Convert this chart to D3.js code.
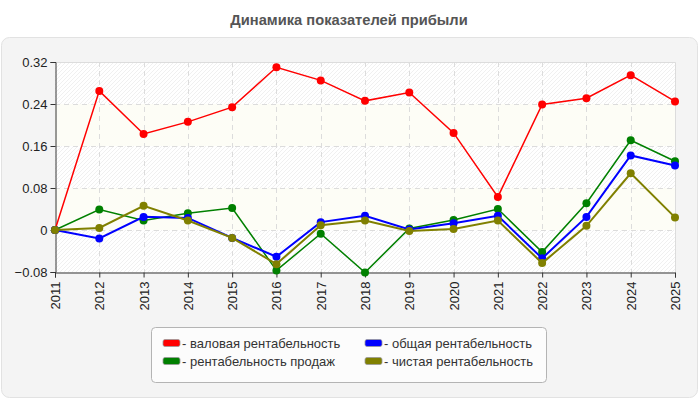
<!DOCTYPE html>
<html>
<head>
<meta charset="utf-8">
<script src="https://cdn.jsdelivr.net/npm/d3@7"></script>
<style>
  body { margin: 0; background: #fff; }
  svg { display: block; font-family: "Liberation Sans", Arial, sans-serif; }
</style>
</head>
<body>
<div id="chart"></div>
<script>
// data
var years = [2011, 2012, 2013, 2014, 2015, 2016, 2017, 2018, 2019, 2020, 2021, 2022, 2023, 2024, 2025]
var gross = [0, 0.265, 0.183, 0.206, 0.234, 0.310, 0.285, 0.246, 0.262, 0.185, 0.063, 0.239, 0.251, 0.295, 0.245]
var sales = [0, 0.039, 0.018, 0.032, 0.042, -0.077, -0.007, -0.081, 0.003, 0.019, 0.040, -0.042, 0.051, 0.171, 0.131]
var total = [0, -0.016, 0.025, 0.023, -0.015, -0.051, 0.015, 0.027, 0.001, 0.013, 0.027, -0.054, 0.025, 0.142, 0.123]
var net = [0, 0.004, 0.046, 0.018, -0.015, -0.065, 0.009, 0.018, -0.002, 0.002, 0.018, -0.063, 0.008, 0.108, 0.024]
var yTicks = [-0.08, 0, 0.08, 0.16, 0.24, 0.32]

var series = [
  {name: '- валовая рентабельность', color: '#ff0000', values: gross, w: 1.5, col: 0, row: 0},
  {name: '- рентабельность продаж', color: '#008000', values: sales, w: 1.5, col: 0, row: 1},
  {name: '- общая рентабельность', color: '#0000ff', values: total, w: 2, col: 1, row: 0},
  {name: '- чистая рентабельность', color: '#808000', values: net, w: 2, col: 1, row: 1}
]

var W = 700, H = 400
var svg = d3.select('#chart').append('svg').attr('width', W).attr('height', H)

//outer panel
svg.append('rect')
  .attr('x', 1.5).attr('y', 37.5).attr('width', 696).attr('height', 360)
  .attr('rx', 8).attr('ry', 8)
  .style('fill', '#f4f4f4').style('stroke', '#e2e2e2')

svg.append('text')
  .attr('x', 349).attr('y', 25)
  .attr('text-anchor', 'middle')
  .style('font-size', '14.7px').style('font-weight', 'bold').style('fill', '#555')
  .text('Динамика показателей прибыли')

var x = d3.scaleLinear().domain([2011, 2025]).range([55, 675])
var y = d3.scaleLinear().domain([-0.08, 0.32]).range([272, 62])

//hatch pattern for plot background
var defs = svg.append('defs')
var pat = defs.append('pattern')
  .attr('id', 'hatch').attr('patternUnits', 'userSpaceOnUse')
  .attr('width', 4).attr('height', 4)
pat.append('rect').attr('width', 4).attr('height', 4).style('fill', '#fff')
pat.append('path').attr('d', 'M-1,1 l2,-2 M0,4 l4,-4 M3,5 l2,-2')
  .style('stroke', '#eeeeee').style('stroke-width', 0.9)

var plot = svg.append('g')
plot.append('rect')
  .attr('x', x(2011)).attr('y', y(0.32))
  .attr('width', x(2025) - x(2011)).attr('height', y(-0.08) - y(0.32))
  .style('fill', 'url(#hatch)')

//alternate plain bands
d3.range(0, yTicks.length - 1).forEach(function(i){
  if(i % 2 == 1){
    plot.append('rect')
      .attr('x', x(2011)).attr('y', y(yTicks[i + 1]))
      .attr('width', x(2025) - x(2011)).attr('height', y(yTicks[i]) - y(yTicks[i + 1]))
      .style('fill', '#fdfdf6')
  }
})

//grid
plot.selectAll('.hgrid').data(yTicks.slice(1, -1)).enter().append('line')
  .attr('x1', x(2011)).attr('x2', x(2025))
  .attr('y1', function(d){ return y(d) + 0.5 }).attr('y2', function(d){ return y(d) + 0.5 })
  .style('stroke', '#dcdcdc').style('stroke-dasharray', '5,4')
plot.selectAll('.vgrid').data(years.slice(1, -1)).enter().append('line')
  .attr('x1', function(d){ return Math.round(x(d)) + 0.5 }).attr('x2', function(d){ return Math.round(x(d)) + 0.5 })
  .attr('y1', y(0.32)).attr('y2', y(-0.08))
  .style('stroke', '#dcdcdc').style('stroke-dasharray', '5,4')
plot.append('path')
  .attr('d', 'M' + x(2011) + ',' + (y(0.32) + 0.5) + 'H' + (x(2025) + 0.5) + 'V' + y(-0.08))
  .style('fill', 'none').style('stroke', '#dcdcdc')

//axes
var yAxis = svg.append('g').attr('transform', 'translate(' + (x(2011) + 0.5) + ',0)')
  .call(d3.axisLeft(y).tickValues(yTicks).tickSize(5).tickPadding(3)
    .tickFormat(function(d){ return d == 0 ? '0' : d3.format('.2f')(d) }))
var xAxis = svg.append('g').attr('transform', 'translate(0,' + (y(-0.08) + 0.5) + ')')
  .call(d3.axisBottom(x).tickValues(years).tickSize(5).tickFormat(d3.format('d')))
xAxis.selectAll('text')
  .attr('transform', 'rotate(-90)')
  .attr('x', -9).attr('y', 0).attr('dy', '0.35em')
  .style('text-anchor', 'end')
;[yAxis, xAxis].forEach(function(a){
  a.select('.domain').style('stroke', '#333')
  a.selectAll('.tick line').style('stroke', '#333')
  a.selectAll('text').style('font-size', '13px').style('fill', '#222')
    .style('font-family', '"Liberation Sans", Arial, sans-serif')
})

//series
var line = d3.line()
  .x(function(d, i){ return x(years[i]) })
  .y(function(d){ return y(d) })
series.forEach(function(s){
  var g = svg.append('g')
  g.append('path').attr('d', line(s.values))
    .style('fill', 'none').style('stroke', s.color).style('stroke-width', s.w)
  g.selectAll('circle').data(s.values).enter().append('circle')
    .attr('cx', function(d, i){ return x(years[i]) })
    .attr('cy', function(d){ return y(d) })
    .attr('r', 4).style('fill', s.color)
})

//legend
var lg = svg.append('g')
lg.append('rect')
  .attr('x', 151.5).attr('y', 327.5).attr('width', 395).attr('height', 55)
  .attr('rx', 4).attr('ry', 4)
  .style('fill', '#fcfcfc').style('stroke', '#b4b4b4')
series.forEach(function(s){
  var lx = s.col == 0 ? 163 : 365
  var ly = s.row == 0 ? 343 : 361
  lg.append('rect')
    .attr('x', lx).attr('y', ly - 3.5).attr('width', 17).attr('height', 7)
    .attr('rx', 2).attr('ry', 2)
    .style('fill', s.color).style('stroke', '#999').style('stroke-width', 0.8)
  lg.append('text')
    .attr('x', lx + 19).attr('y', ly).attr('dy', '0.35em')
    .style('font-size', '13px').style('fill', '#333')
    .text(s.name)
})
</script>
</body>
</html>
